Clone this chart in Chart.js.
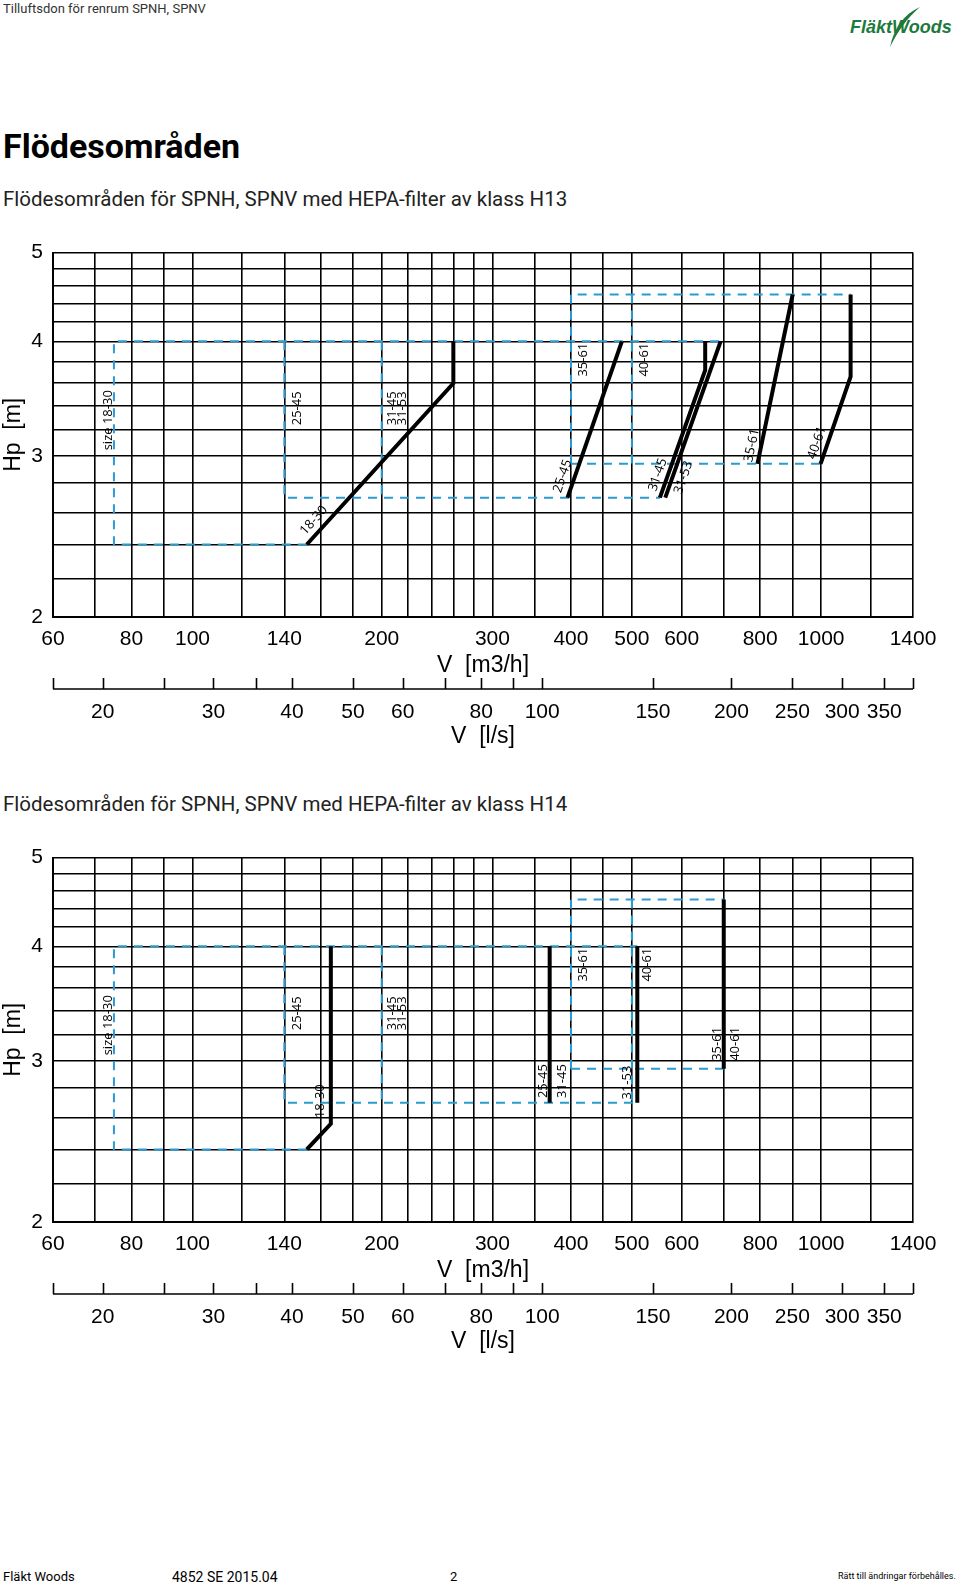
<!DOCTYPE html>
<html lang="sv">
<head>
<meta charset="UTF-8">
<title>Flödesområden SPNH, SPNV</title>
<style>
    html, body {
        margin: 0;
        padding: 0;
        background: #fff;
    }
    body {
        width: 960px;
        height: 1585px;
        position: relative;
        overflow: hidden;
        font-family: Roboto, "Liberation Sans", sans-serif;
        color: #000;
    }
    .txt {
        position: absolute;
        white-space: nowrap;
        line-height: 1;
    }
    .chart-box {
        position: absolute;
        left: 0;
        width: 960px;
        height: 530px;
    }
</style>
<script src="https://cdn.jsdelivr.net/npm/chart.js"></script>
</head>
<body>

<div class="txt" style="left:3px; top:2px; font-size:13px; color:#333;">Tilluftsdon för renrum SPNH, SPNV</div>

<!-- logo -->
<svg style="position:absolute; left:870px; top:4px;" width="56" height="46">
    <path d="M50 3 C 34 10, 24 24, 20 43 C 28 27, 37 14, 50 3 Z" fill="#1d7a3c"/>
</svg>
<div class="txt" style="left:850px; top:18px; font-family:'Liberation Sans', Arial; font-weight:bold; font-style:italic; font-size:18px; color:#1d7a3c;">FläktWoods</div>

<div class="txt" style="left:3px; top:129px; font-size:34px; font-weight:bold;">Flödesområden</div>
<div class="txt" style="left:3px; top:189px; font-size:20.5px; color:#222;">Flödesområden för SPNH, SPNV med HEPA-filter av klass H13</div>

<div class="chart-box" style="top:230px;"><canvas id="chart-h13" width="960" height="530"></canvas></div>

<div class="txt" style="left:3px; top:794px; font-size:20.5px; color:#222;">Flödesområden för SPNH, SPNV med HEPA-filter av klass H14</div>

<div class="chart-box" style="top:835px;"><canvas id="chart-h14" width="960" height="530"></canvas></div>

<div class="txt" style="left:3px; top:1570px; font-size:13px;">Fläkt Woods</div>
<div class="txt" style="left:172px; top:1570px; font-size:14px;">4852 SE 2015.04</div>
<div class="txt" style="left:450px; top:1570px; font-size:13px;">2</div>
<div class="txt" style="left:838px; top:1572px; font-size:9px;">Rätt till ändringar förbehålles.</div>

<script>
    // axes (m3/h on x, l/s as a second scale, Hp on y)
    const xGrid = [60, 70, 80, 90, 100, 120, 140, 160, 180, 200, 220, 240, 260, 280, 300, 350, 400, 450, 500, 600, 700, 800, 900, 1000, 1200, 1400];
    const xLabels = [60, 80, 100, 140, 200, 300, 400, 500, 600, 800, 1000, 1400];
    const lsTicks = [20, 25, 30, 35, 40, 50, 60, 70, 80, 90, 100, 150, 200, 250, 300, 350];
    const lsLabels = [20, 30, 40, 50, 60, 80, 100, 150, 200, 250, 300, 350];
    const yGrid = [2, 2.2, 2.4, 2.6, 2.8, 3, 3.2, 3.4, 3.6, 3.8, 4, 4.2, 4.4, 4.6, 4.8, 5];
    const yLabels = [2, 3, 4, 5];

    // H13: dashed range boxes and the solid limit curves, [m3/h, Hp]
    const h13Dashed = [
        [[152, 2.4], [75, 2.4], [75, 4], [692, 4]],
        [[140, 4], [140, 2.7], [554, 2.7]],
        [[200, 4], [200, 2.7]],
        [[400, 2.94], [400, 4.5], [1114, 4.5]],
        [[500, 4.5], [500, 2.94]],
        [[400, 2.94], [1000, 2.94]]
    ];
    const h13Curves = [
        [[152, 2.4], [260, 3.6], [260, 4]],
        [[395, 2.7], [482, 4]],
        [[554, 2.7], [654, 3.72], [654, 4]],
        [[565, 2.7], [692, 4]],
        [[792, 2.94], [901, 4.5]],
        [[998, 2.94], [1114, 3.66], [1114, 4.5]]
    ];

    // H14
    const h14Dashed = [
        [[152, 2.4], [75, 2.4], [75, 4], [510, 4]],
        [[140, 4], [140, 2.7], [510, 2.7]],
        [[200, 4], [200, 2.7]],
        [[400, 2.94], [400, 4.5], [700, 4.5]],
        [[500, 4.5], [500, 2.7]],
        [[400, 2.94], [700, 2.94]]
    ];
    const h14Curves = [
        [[152, 2.4], [166, 2.56], [166, 4]],
        [[370, 2.7], [370, 4]],
        [[510, 2.7], [510, 4]],
        [[700, 2.94], [700, 4.5]]
    ];

    // size labels: text, m3/h, Hp, angle
    const h13Notes = [
        ['size 18-30', 73.4, 3.28, -90],
        ['25-45', 147, 3.38, -90],
        ['31-45', 208, 3.38, -90],
        ['31-53', 216, 3.38, -90],
        ['18-30', 156, 2.55, -48],
        ['35-61', 418, 3.82, -90],
        ['40-61', 523, 3.82, -90],
        ['25-45', 388, 2.85, -71],
        ['31-45', 550, 2.86, -71],
        ['31-53', 604, 2.84, -71],
        ['35-61', 776, 3.08, -78],
        ['40-61', 985, 3.1, -71]
    ];
    const h14Notes = [
        ['size 18-30', 73.4, 3.28, -90],
        ['25-45', 147, 3.38, -90],
        ['31-45', 208, 3.38, -90],
        ['31-53', 216, 3.38, -90],
        ['18-30', 160, 2.71, -90],
        ['35-61', 418, 3.82, -90],
        ['40-61', 530, 3.82, -90],
        ['25-45', 361, 2.85, -90],
        ['31-45', 387, 2.85, -90],
        ['31-53', 491, 2.84, -90],
        ['35-61', 683, 3.13, -90],
        ['40-61', 730, 3.13, -90]
    ];

    const tickFont = { family: "'Liberation Sans', Arial, sans-serif", size: 21 };
    const titleFont = { family: "'Liberation Sans', Arial, sans-serif", size: 23 };

    function lineSet(points, dashed) {
        return {
            data: points.map(p => ({ x: p[0], y: p[1] })),
            borderColor: dashed ? '#2a9bd0' : '#000',
            borderWidth: dashed ? 2 : 4,
            borderDash: dashed ? [9, 7] : [],
            borderJoinStyle: 'miter',
            borderCapStyle: 'butt',
            pointRadius: 0,
            fill: false,
            tension: 0,
            order: dashed ? 2 : 1
        };
    }

    // l/s axis: line with ticks pointing up
    const lsAxisPlugin = {
        id: 'lsAxis',
        afterDraw(chart) {
            const s = chart.scales.x2;
            const ctx = chart.ctx;
            const y = s.top;
            ctx.save();
            ctx.strokeStyle = '#000';
            ctx.lineWidth = 1.6;
            ctx.beginPath();
            ctx.moveTo(s.left, y);
            ctx.lineTo(s.right, y);
            [s.min].concat(lsTicks, [s.max]).forEach(v => {
                const px = Math.round(s.getPixelForValue(v)) + 0.5;
                ctx.moveTo(px, y);
                ctx.lineTo(px, y - 11);
            });
            ctx.stroke();
            ctx.restore();
        }
    };

    function notesPlugin(notes) {
        return {
            id: 'sizeNotes',
            afterDatasetsDraw(chart) {
                const xs = chart.scales.x;
                const ys = chart.scales.y;
                const ctx = chart.ctx;
                ctx.save();
                ctx.font = "13px 'Open Sans', sans-serif";
                ctx.fillStyle = '#000';
                ctx.textAlign = 'center';
                ctx.textBaseline = 'middle';
                notes.forEach(([text, vx, vy, angle]) => {
                    ctx.save();
                    ctx.translate(xs.getPixelForValue(vx), ys.getPixelForValue(vy));
                    ctx.rotate(angle * Math.PI / 180);
                    ctx.fillText(text, 0, 0);
                    ctx.restore();
                });
                ctx.restore();
            }
        };
    }

    function makeChart(id, dashed, curves, notes) {
        const ctx = document.getElementById(id).getContext('2d');
        return new Chart(ctx, {
            type: 'line',
            data: {
                datasets: dashed.map(p => lineSet(p, true)).concat(curves.map(p => lineSet(p, false)))
            },
            options: {
                responsive: false,
                animation: false,
                layout: { padding: { top: 19, right: 47, bottom: 10, left: 0 } },
                plugins: {
                    legend: { display: false },
                    tooltip: { enabled: false }
                },
                scales: {
                    x: {
                        type: 'logarithmic',
                        min: 60,
                        max: 1400,
                        position: 'bottom',
                        weight: 0,
                        afterBuildTicks: s => { s.ticks = xGrid.map(v => ({ value: v })); },
                        afterFit: s => { s.height = 72; },
                        grid: { color: '#000', lineWidth: 1.6, drawTicks: false },
                        border: { color: '#000', width: 2 },
                        ticks: {
                            autoSkip: false,
                            maxRotation: 0,
                            padding: 10,
                            color: '#000',
                            font: tickFont,
                            callback: v => xLabels.includes(v) ? String(v) : ''
                        },
                        title: {
                            display: true,
                            text: 'V  [m3/h]',
                            color: '#000',
                            font: titleFont,
                            padding: { top: 0, bottom: 10 }
                        }
                    },
                    x2: {
                        type: 'logarithmic',
                        min: 60 / 3.6,
                        max: 1400 / 3.6,
                        position: 'bottom',
                        weight: 1,
                        afterBuildTicks: s => { s.ticks = lsTicks.map(v => ({ value: v })); },
                        afterFit: s => { s.height = 61; },
                        grid: { display: false, drawTicks: false },
                        border: { display: false },
                        ticks: {
                            autoSkip: false,
                            maxRotation: 0,
                            padding: 11,
                            color: '#000',
                            font: tickFont,
                            callback: v => lsLabels.includes(v) ? String(v) : ''
                        },
                        title: {
                            display: true,
                            text: 'V  [l/s]',
                            color: '#000',
                            font: titleFont,
                            padding: { top: 0, bottom: 0 }
                        }
                    },
                    y: {
                        type: 'logarithmic',
                        min: 2,
                        max: 5,
                        afterBuildTicks: s => { s.ticks = yGrid.map(v => ({ value: v })); },
                        afterFit: s => { s.width = 53; },
                        grid: { color: '#000', lineWidth: 1.6, drawTicks: false },
                        border: { color: '#000', width: 2 },
                        ticks: {
                            autoSkip: false,
                            padding: 10,
                            color: '#000',
                            font: tickFont,
                            callback: v => yLabels.includes(v) ? String(v) : ''
                        },
                        title: {
                            display: true,
                            text: 'Hp  [m]',
                            color: '#000',
                            font: titleFont,
                            padding: 0
                        }
                    }
                }
            },
            plugins: [lsAxisPlugin, notesPlugin(notes)]
        });
    }

    makeChart('chart-h13', h13Dashed, h13Curves, h13Notes);
    makeChart('chart-h14', h14Dashed, h14Curves, h14Notes);
</script>
</body>
</html>
